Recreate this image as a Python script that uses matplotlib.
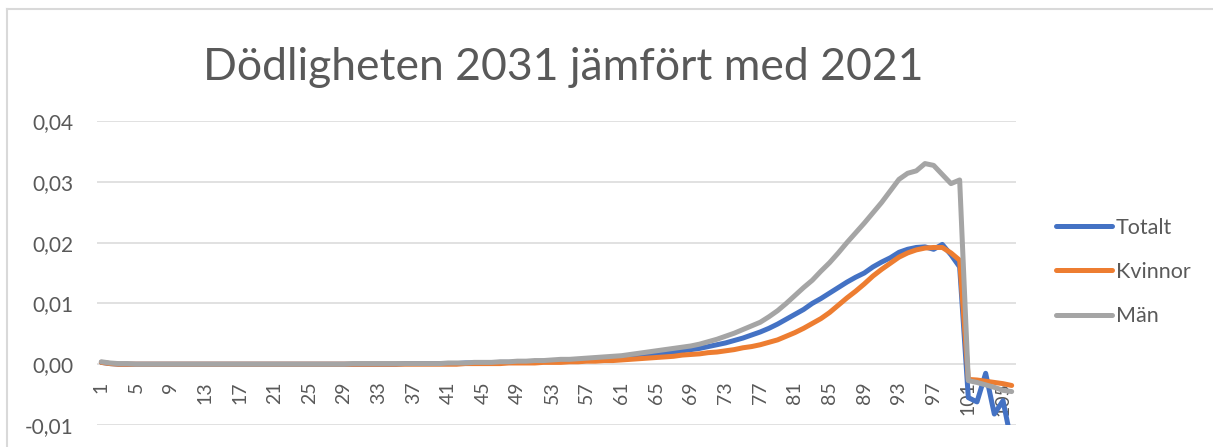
import matplotlib
matplotlib.use('Agg')
import matplotlib.pyplot as plt
from matplotlib.ticker import FuncFormatter
from matplotlib.lines import Line2D

# age categories 1..106
ages = list(range(1, 107))

totalt = [
    0.0003, 0.0001, 0.0000, 0.0000, 0.0000, 0.0000, 0.0000, 0.0000, 0.0000, 0.0000,
    0.0000, 0.0000, 0.0000, 0.0000, 0.0000, 0.0000, 0.0000, 0.0000, 0.0000, 0.0000,
    0.0000, 0.0000, 0.0000, 0.0000, 0.0000, 0.0000, 0.0000, 0.0000, 0.0000, 0.0000,
    0.0000, 0.0000, 0.0000, 0.0000, 0.0000, 0.0001, 0.0001, 0.0001, 0.0001, 0.0001,
    0.0001, 0.0001, 0.0002, 0.0002, 0.0002, 0.0002, 0.0003, 0.0003, 0.0003, 0.0004,
    0.0004, 0.0005, 0.0005, 0.0006, 0.0006, 0.0007, 0.0008, 0.0008, 0.0009, 0.0010,
    0.0011, 0.0012, 0.0014, 0.0016, 0.0017, 0.0019, 0.0020, 0.0022, 0.0024, 0.0026,
    0.0029, 0.0032, 0.0035, 0.0039, 0.0043, 0.0048, 0.0053, 0.0059, 0.0066, 0.0074,
    0.0082, 0.0090, 0.0100, 0.0108, 0.0117, 0.0126, 0.0135, 0.0143, 0.0150, 0.0160,
    0.0168, 0.0175, 0.0184, 0.0189, 0.0192, 0.0193, 0.0189, 0.0197, 0.0180, 0.0160,
    -0.0055, -0.0062, -0.0015, -0.0082, -0.0060, -0.0130,
]

kvinnor = [
    0.0003, 0.0001, 0.0000, 0.0000, 0.0000, 0.0000, 0.0000, 0.0000, 0.0000, 0.0000,
    0.0000, 0.0000, 0.0000, 0.0000, 0.0000, 0.0000, 0.0000, 0.0000, 0.0000, 0.0000,
    0.0000, 0.0000, 0.0000, 0.0000, 0.0000, 0.0000, 0.0000, 0.0000, 0.0000, 0.0000,
    0.0000, 0.0000, 0.0000, 0.0000, 0.0000, 0.0000, 0.0000, 0.0000, 0.0000, 0.0000,
    0.0000, 0.0000, 0.0001, 0.0001, 0.0001, 0.0001, 0.0001, 0.0002, 0.0002, 0.0002,
    0.0002, 0.0003, 0.0003, 0.0003, 0.0004, 0.0004, 0.0005, 0.0005, 0.0006, 0.0006,
    0.0007, 0.0008, 0.0009, 0.0010, 0.0011, 0.0012, 0.0013, 0.0015, 0.0016, 0.0017,
    0.0019, 0.0020, 0.0022, 0.0024, 0.0027, 0.0029, 0.0032, 0.0036, 0.0040, 0.0046,
    0.0052, 0.0059, 0.0067, 0.0075, 0.0085, 0.0097, 0.0109, 0.0120, 0.0132, 0.0145,
    0.0156, 0.0166, 0.0176, 0.0183, 0.0188, 0.0191, 0.0192, 0.0192, 0.0183, 0.0171,
    -0.0025, -0.0026, -0.0028, -0.0030, -0.0032, -0.0035,
]

man = [
    0.0004, 0.0002, 0.0001, 0.0001, 0.0000, 0.0000, 0.0000, 0.0000, 0.0000, 0.0000,
    0.0000, 0.0000, 0.0000, 0.0000, 0.0000, 0.0000, 0.0000, 0.0000, 0.0000, 0.0000,
    0.0000, 0.0000, 0.0000, 0.0000, 0.0000, 0.0000, 0.0000, 0.0000, 0.0000, 0.0001,
    0.0001, 0.0001, 0.0001, 0.0001, 0.0001, 0.0001, 0.0001, 0.0001, 0.0001, 0.0001,
    0.0002, 0.0002, 0.0002, 0.0003, 0.0003, 0.0003, 0.0004, 0.0004, 0.0005, 0.0005,
    0.0006, 0.0006, 0.0007, 0.0008, 0.0008, 0.0009, 0.0010, 0.0011, 0.0012, 0.0013,
    0.0014, 0.0016, 0.0018, 0.0020, 0.0022, 0.0024, 0.0026, 0.0028, 0.0030, 0.0033,
    0.0037, 0.0041, 0.0046, 0.0051, 0.0057, 0.0063, 0.0069, 0.0078, 0.0088, 0.0100,
    0.0113, 0.0126, 0.0138, 0.0153, 0.0167, 0.0183, 0.0200, 0.0216, 0.0232, 0.0249,
    0.0266, 0.0285, 0.0304, 0.0314, 0.0318, 0.0330, 0.0327, 0.0312, 0.0297, 0.0303,
    -0.0027, -0.0030, -0.0034, -0.0038, -0.0043, -0.0045,
]

series = [("Totalt", totalt, "#4472C4"),
          ("Kvinnor", kvinnor, "#ED7D31"),
          ("Män", man, "#A5A5A5")]

plt.rcParams['font.family'] = ['Lato', 'DejaVu Sans']
txt = '#595959'
W, H = 1213, 447

fig = plt.figure(figsize=(W / 100, H / 100), dpi=100)
ax = fig.add_axes([97 / W, 1 - 425 / H, (1016 - 97) / W, (425 - 121) / H])

xpos = list(range(len(ages)))
for name, vals, col in series:
    ax.plot(xpos, vals, color=col, lw=3.6, label=name,
            solid_joinstyle='round', solid_capstyle='round')

ax.set_xlim(-0.5, len(ages) - 0.5)
ax.set_ylim(-0.01, 0.04)
ax.set_yticks([-0.01, 0.0, 0.01, 0.02, 0.03, 0.04])
ax.yaxis.set_major_formatter(FuncFormatter(
    lambda v, p: ('%.2f' % v).replace('.', ',').replace('-0,00', '0,00')))
ax.set_xticks(xpos[::4])
ax.set_xticklabels([str(a) for a in ages[::4]])

ax.grid(axis='y', color='#d9d9d9', lw=1.1)
ax.set_axisbelow(True)
for s in ax.spines.values():
    s.set_visible(False)
ax.spines['bottom'].set_position(('data', 0))
ax.tick_params(axis='x', length=0, pad=12.5, labelsize=14,
               labelcolor=txt, labelrotation=90)
ax.tick_params(axis='y', length=0, pad=17, labelsize=15, labelcolor=txt)

ax.legend(loc='center left', bbox_to_anchor=(1056 / W, 1 - 272 / H),
          bbox_transform=fig.transFigure, frameon=False, fontsize=15.5,
          handlelength=2.6, handletextpad=0.19, labelspacing=1.12,
          borderpad=0, borderaxespad=0, labelcolor=txt)

fig.text(563 / W, 1 - 80 / H, 'Dödligheten 2031 jämfört med 2021',
         ha='center', va='baseline', fontsize=32, color=txt)

# chart area border (top and left visible in the crop)
fig.add_artist(Line2D([7 / W, 1], [1 - 9 / H, 1 - 9 / H],
                      transform=fig.transFigure, color='#d9d9d9', lw=1.5))
fig.add_artist(Line2D([7 / W, 7 / W], [0, 1 - 9 / H],
                      transform=fig.transFigure, color='#d9d9d9', lw=1.5))

fig.savefig('out.png', dpi=100)
